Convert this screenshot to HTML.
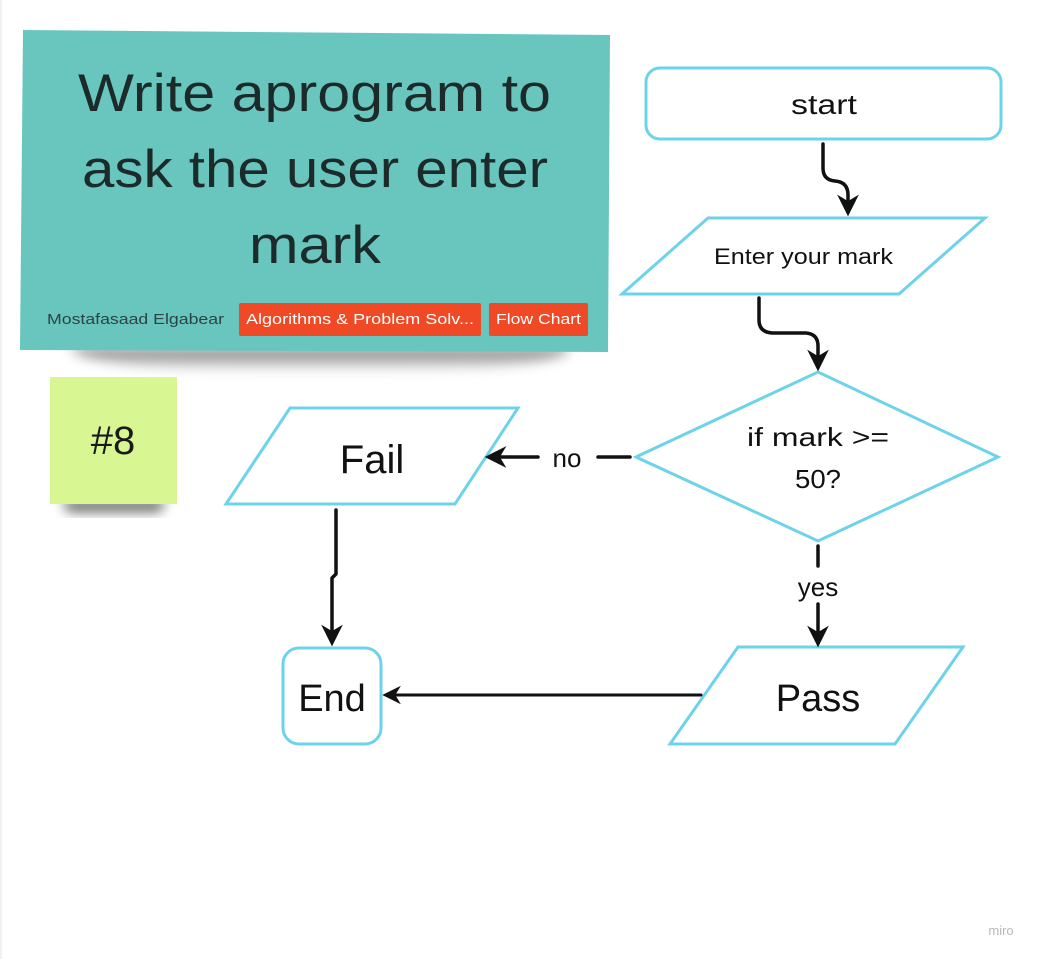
<!DOCTYPE html>
<html><head><meta charset="utf-8"><style>
html,body{margin:0;padding:0;background:#fff;width:1041px;height:959px;overflow:hidden}
svg{display:block}
text{font-family:"Liberation Sans",sans-serif}
</style></head><body>
<svg width="1041" height="959" viewBox="0 0 1041 959" xmlns="http://www.w3.org/2000/svg">
<defs>
<filter id="sh" x="-20%" y="-50%" width="140%" height="200%"><feGaussianBlur stdDeviation="6"/></filter>
<linearGradient id="cg" x1="0" y1="0" x2="0" y2="1">
<stop offset="0" stop-color="#000" stop-opacity="0.55"/><stop offset="1" stop-color="#000" stop-opacity="0"/></linearGradient>
<marker id="ah" viewBox="0 0 10 10" refX="8" refY="5" markerWidth="6.2" markerHeight="6.2" orient="auto-start-reverse" markerUnits="strokeWidth">
<path d="M0,0 L10,5 L0,10 L3,5 Z" fill="#111"/></marker>
</defs>
<rect x="0.5" y="0" width="1" height="959" fill="#e6e6e6"/>
<!-- teal card shadow -->
<path d="M70,348 L570,348 Q560,372 320,372 Q90,372 70,348 Z" fill="url(#cg)" filter="url(#sh)"/>
<polygon points="23,30 610,35 608,352 20,350" fill="#68c6bf"/>
<g font-size="53" fill="#1d2a2a">
<text x="78" y="111" textLength="473" lengthAdjust="spacingAndGlyphs">Write aprogram to</text>
<text x="82" y="187" textLength="466" lengthAdjust="spacingAndGlyphs">ask the user enter</text>
<text x="249" y="263" textLength="132" lengthAdjust="spacingAndGlyphs">mark</text>
</g>
<text x="47" y="324" font-size="15" fill="#2d4242" textLength="177" lengthAdjust="spacingAndGlyphs">Mostafasaad Elgabear</text>
<rect x="239" y="303" width="242" height="33" rx="2" fill="#ef4a25"/>
<text x="246" y="324" font-size="15" fill="#fff" textLength="228" lengthAdjust="spacingAndGlyphs">Algorithms &amp; Problem Solv...</text>
<rect x="489" y="303" width="99" height="33" rx="2" fill="#ef4a25"/>
<text x="496" y="324" font-size="15" fill="#fff" textLength="85" lengthAdjust="spacingAndGlyphs">Flow Chart</text>
<!-- sticky -->
<path d="M62,500 L166,500 L160,512 L68,512 Z" fill="#000" opacity="0.6" filter="url(#sh)"/>
<rect x="50" y="377" width="127" height="127" fill="#d8f792"/>
<text x="113" y="454" font-size="40" fill="#1a1a1a" text-anchor="middle">#8</text>

<g fill="#fff" stroke="#6dd3ea" stroke-width="3">
<rect x="646" y="68" width="355" height="71" rx="14"/>
<polygon points="708,218 985,218 899,294 622,294"/>
<polygon points="818,372 998,457 818,541 636,457"/>
<polygon points="290,408 518,408 455,504 226,504"/>
<rect x="283" y="648" width="98" height="96" rx="16"/>
<polygon points="738,647 963,647 895,744 670,744"/>
</g>
<g fill="#111">
<text x="791" y="114" font-size="28" textLength="66" lengthAdjust="spacingAndGlyphs">start</text>
<text x="714" y="264" font-size="22" textLength="179" lengthAdjust="spacingAndGlyphs">Enter your mark</text>
<text x="747" y="446" font-size="26" textLength="142" lengthAdjust="spacingAndGlyphs">if mark &gt;=</text>
<text x="795" y="488" font-size="26" textLength="46" lengthAdjust="spacingAndGlyphs">50?</text>
</g>
<g fill="#111" text-anchor="middle">
<text x="372" y="473" font-size="40">Fail</text>
<text x="332" y="711" font-size="38">End</text>
<text x="818" y="711" font-size="38">Pass</text>
<text x="567" y="467" font-size="26">no</text>
<text x="818" y="596" font-size="26">yes</text>
</g>
<g fill="none" stroke="#111" stroke-width="3.5" stroke-linecap="round" stroke-linejoin="round">
<path d="M823,144 L823,168 Q823,180 835,181 Q848,182 848,195 L848,212" marker-end="url(#ah)"/>
<path d="M759,298 L759,320 Q759,332 772,333 L806,333 Q818,334 818,346 L818,367" marker-end="url(#ah)"/>
<path d="M630,457 L598,457"/>
<path d="M538,457 L489,457" marker-end="url(#ah)"/>
<path d="M336,510 L336,574 L332,578 L332,642" marker-end="url(#ah)"/>
<path d="M818,546 L818,566"/>
<path d="M818,604 L818,643" marker-end="url(#ah)"/>
<path d="M701,695 L386,695" marker-end="url(#ah)" stroke-width="3"/>
</g>
<text x="1001" y="935" font-size="13" fill="#b8b8b8" text-anchor="middle">miro</text>
</svg>
</body></html>
